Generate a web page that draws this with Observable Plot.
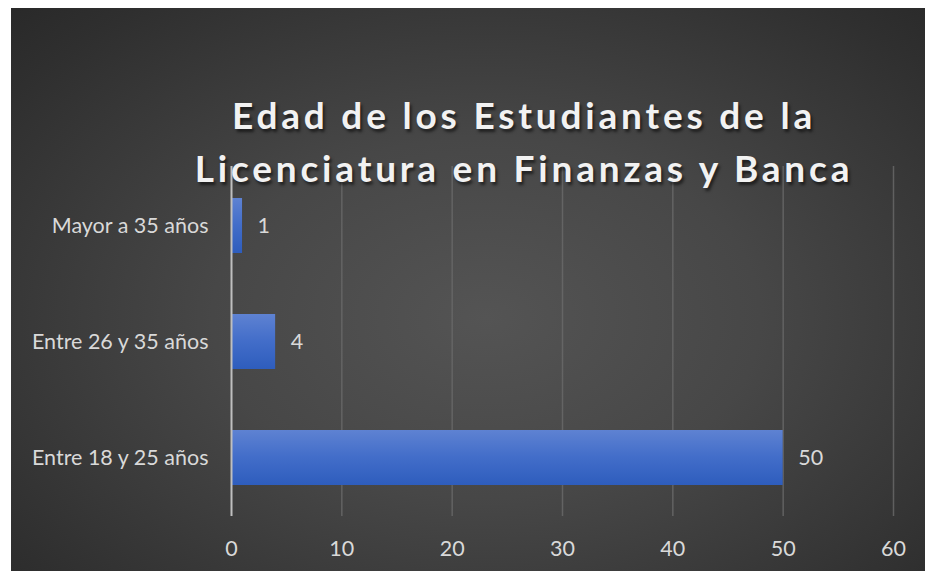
<!DOCTYPE html>
<html>
<head>
<meta charset="utf-8">
<script src="https://cdn.jsdelivr.net/npm/d3@7"></script>
<script src="https://cdn.jsdelivr.net/npm/@observablehq/plot@0.6"></script>
<style>
  html, body { margin: 0; padding: 0; background: #ffffff; }
  #wrap { position: relative; width: 925px; height: 571px; overflow: hidden; }
  #panel {
    position: absolute; left: 11px; top: 8px; width: 914px; height: 563px;
    background: radial-gradient(ellipse 75% 80% at 52% 55%, #545454 0%, #474747 40%, #2f2f2f 85%, #282828 100%);
  }
  #chart { position: absolute; left: 0; top: 0; }
  #title {
    position: absolute; left: 11px; width: 1026px; top: 88px; text-align: center;
    font-family: Lato, "Open Sans", sans-serif; font-weight: 700; font-size: 37px;
    letter-spacing: 3.8px; line-height: 53px; color: #f2f2f2;
    text-shadow: 2px 3px 3px rgba(0,0,0,0.55);
  }
</style>
</head>
<body>
<div id="wrap">
  <div id="panel"></div>
  <div id="chart"></div>
  <div id="title">Edad de los Estudiantes de la<br>Licenciatura en Finanzas y Banca</div>
</div>
<script>
const categories = ["Mayor a 35 años", "Entre 26 y 35 años", "Entre 18 y 25 años"];
const values = [1, 4, 50];
const xTicks = [0, 10, 20, 30, 40, 50, 60];

const data = categories.map((c, i) => ({category: c, value: values[i]}));

const plot = Plot.plot({
  width: 925,
  height: 571,
  marginLeft: 231,
  marginRight: 32,
  marginTop: 166,
  marginBottom: 55,
  style: {background: "transparent", fontFamily: "Lato, 'Open Sans', sans-serif", fontSize: "21.5px", color: "#d9d9d9"},
  x: {domain: [0, 60], ticks: xTicks, label: null, tickSize: 0, tickPadding: 24},
  y: {domain: categories, label: null, paddingInner: 0.53, paddingOuter: 0.265, tickSize: 0, tickPadding: 23},
  marks: [
    Plot.gridX(xTicks.filter(d => d > 0), {stroke: "#6a6a6a", strokeOpacity: 0.8, strokeWidth: 1.5}),
    Plot.barX(data, {x: "value", y: "category", fill: "url(#barGrad)",
      style: "filter: drop-shadow(2px 3px 3px rgba(0,0,0,0.5))"}),
    Plot.ruleX([0], {stroke: "#bfbfbf", strokeWidth: 2}),
    Plot.text(data, {x: "value", y: "category", text: d => String(d.value), textAnchor: "start", dx: 15, fill: "#d9d9d9", fontSize: 21.5}),
    Plot.axisX({ticks: xTicks, tickSize: 0, tickPadding: 24, fontSize: 21.5}),
    Plot.axisY({tickSize: 0, tickPadding: 23, fontSize: 21.5})
  ]
});

const svg = d3.select(plot);
const defs = svg.insert("defs", ":first-child");
const g = defs.append("linearGradient").attr("id", "barGrad").attr("x1", 0).attr("y1", 0).attr("x2", 0).attr("y2", 1);
g.append("stop").attr("offset", "0%").attr("stop-color", "#5e82d2");
g.append("stop").attr("offset", "50%").attr("stop-color", "#426dc9");
g.append("stop").attr("offset", "100%").attr("stop-color", "#2e5dbd");

document.getElementById("chart").appendChild(plot);
</script>
</body>
</html>
